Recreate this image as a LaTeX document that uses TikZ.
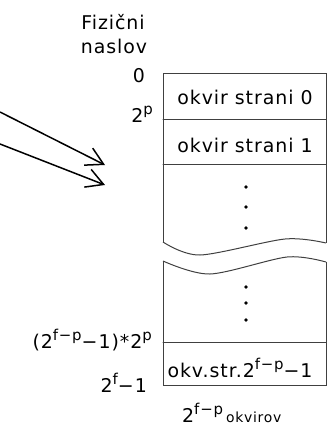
\documentclass[tikz,border=0pt]{standalone}
\usepackage{fontspec}
\setmainfont{DejaVu Sans}[LetterSpace=5]
\usepackage{tkz-euclide}
\usetikzlibrary{arrows.meta,calc}
\definecolor{FrameClr}{rgb}{0.25,0.25,0.25}
\newcommand{\hi}[1]{\raisebox{8bp}{\fontsize{15}{15}\selectfont #1}}

\begin{document}
\begin{tikzpicture}[x=1bp,y=-1bp,font=\fontsize{19}{21}\selectfont,
  lbl/.style={inner sep=0pt,anchor=base east},
  cell/.style={inner sep=0pt,anchor=base},
  frame/.style={line width=1bp,color=FrameClr},
  pointer/.style={line width=1.5bp,-{Straight Barb[length=17bp,width=19bp]}}]
\useasboundingbox (0,0) rectangle (327,426);
\tkzSetUpLine[line width=1bp,color=FrameClr]

\tkzDefPoints{163/73/T1,326/73/T2,163/119/D1,326/119/D2,163/164/E1,326/164/E2}
\tkzDefPoints{163/242/U1,326/243/U2,163/261/L1,326/262/L2}
\tkzDefPoints{163/342/F1,326/342/F2,163/385/B1,326/385/B2}

% upper part of the table
\draw[frame] (U1) -- (T1) -- (T2) -- (U2);
\draw[frame] plot[smooth] coordinates {(U1) (200,255) (285,239) (U2)};
% lower part
\draw[frame] (L1) -- (B1) -- (B2) -- (L2);
\draw[frame] plot[smooth] coordinates {(L1) (210,274) (287,257) (L2)};
\tkzDrawSegments(D1,D2 E1,E2 F1,F2)

\foreach \y in {187,207,228,287,303,320}
  \fill (246,\y) circle (1.8bp);

% frames
\node[cell] (c0) at (245,104) {okvir strani 0};
\node[cell] (c1) at (245,152) {okvir strani 1};
\node[cell] (cn) at (240,377) {okv.str.2\hi{f−p}−1};
\node[anchor=base west,inner sep=0pt] (cnt) at (182,422)
  {2\hi{f−p}\,{\fontsize{14}{14}\selectfont okvirov}};

% addresses
\node[anchor=base,inner sep=0pt] (fiz) at (113,29) {Fizični};
\node[anchor=base,inner sep=0pt] (nas) at (114,53) {naslov};
\node[lbl] (a0) at (145,82) {0};
\node[lbl] (ap) at (153,122) {2\hi{p}};
\node[lbl] (an) at (152,348) {(2\hi{f−p}−1)*2\hi{p}};
\node[lbl] (al) at (147,392) {2\hi{f}−1};

\coordinate (s1) at (0,112);
\coordinate (t1) at (105,165);
\coordinate (s2) at (0,144);
\coordinate (t2) at (105,185);
\draw[pointer] (s1) -- (t1);
\draw[pointer] (s2) -- (t2);

\end{tikzpicture}
\end{document}
